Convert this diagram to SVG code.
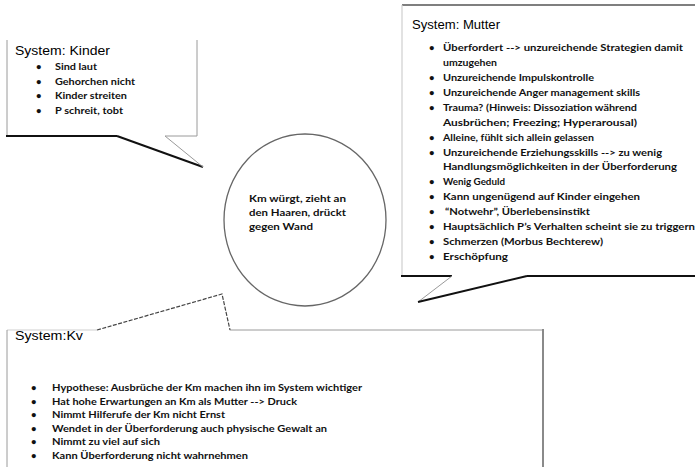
<svg xmlns="http://www.w3.org/2000/svg" width="695" height="467" viewBox="0 0 695 467">
<style>
.t{font-family:"Liberation Sans",Arial,sans-serif;font-size:12px;fill:#000}
.b{font-family:Lato,"Liberation Sans",sans-serif;font-weight:bold;font-size:9.5px;fill:#111}
.c{font-family:Lato,"Liberation Sans",sans-serif;font-weight:bold;font-size:9.5px;fill:#111}
.lg{stroke:#9a9a9a;stroke-width:1;fill:none}
.ll{stroke:#cfcfcf;stroke-width:1.2;fill:none}
.bk{stroke:#111;stroke-width:2;fill:none}
.dg{stroke:#555;stroke-width:1.5;fill:none}
</style>
<rect width="695" height="467" fill="#fff"/>
<g id="kinder">
<line class="lg" x1="7" y1="40" x2="7" y2="136"/>
<line class="bk" x1="6" y1="136" x2="117" y2="136"/>
<line class="lg" x1="165" y1="136" x2="197" y2="136"/>
<line class="lg" x1="197" y1="40" x2="197" y2="136"/>
<text class="t" x="15" y="55" textLength="95" lengthAdjust="spacingAndGlyphs">System: Kinder</text>
<g class="b">
<text x="36" y="70">•</text><text x="55" y="70" textLength="42" lengthAdjust="spacingAndGlyphs">Sind laut</text>
<text x="36" y="84.5">•</text><text x="55" y="84.5" textLength="80" lengthAdjust="spacingAndGlyphs">Gehorchen nicht</text>
<text x="36" y="99">•</text><text x="55" y="99" textLength="72" lengthAdjust="spacingAndGlyphs">Kinder streiten</text>
<text x="36" y="113.5">•</text><text x="55" y="113.5" textLength="68" lengthAdjust="spacingAndGlyphs">P schreit, tobt</text>
</g>
</g>
<g id="mutter">
<line class="dg" x1="402" y1="5" x2="695" y2="5"/>
<line class="ll" x1="402" y1="5" x2="402" y2="276"/>
<line class="bk" x1="401" y1="276" x2="452" y2="276"/>
<line class="bk" x1="527" y1="276" x2="695" y2="276"/>
<text class="t" x="412" y="29" textLength="88" lengthAdjust="spacingAndGlyphs">System: Mutter</text>
<g class="b">
<text x="429" y="51">•</text><text x="443" y="51" textLength="240" lengthAdjust="spacingAndGlyphs">Überfordert --&gt; unzureichende Strategien damit</text>
<text x="443" y="65.9" textLength="54" lengthAdjust="spacingAndGlyphs">umzugehen</text>
<text x="429" y="80.9">•</text><text x="443" y="80.9" textLength="151" lengthAdjust="spacingAndGlyphs">Unzureichende Impulskontrolle</text>
<text x="429" y="95.8">•</text><text x="443" y="95.8" textLength="197" lengthAdjust="spacingAndGlyphs">Unzureichende Anger management skills</text>
<text x="429" y="110.7">•</text><text x="443" y="110.7" textLength="194" lengthAdjust="spacingAndGlyphs">Trauma? (Hinweis: Dissoziation während</text>
<text x="443" y="125.7" textLength="194" lengthAdjust="spacingAndGlyphs">Ausbrüchen; Freezing; Hyperarousal)</text>
<text x="429" y="140.6">•</text><text x="443" y="140.6" textLength="151" lengthAdjust="spacingAndGlyphs">Alleine, fühlt sich allein gelassen</text>
<text x="429" y="155.5">•</text><text x="443" y="155.5" textLength="219" lengthAdjust="spacingAndGlyphs">Unzureichende Erziehungsskills --&gt; zu wenig</text>
<text x="443" y="170.4" textLength="234" lengthAdjust="spacingAndGlyphs">Handlungsmöglichkeiten in der Überforderung</text>
<text x="429" y="185.4">•</text><text x="443" y="185.4" textLength="62" lengthAdjust="spacingAndGlyphs">Wenig Geduld</text>
<text x="429" y="200.3">•</text><text x="443" y="200.3" textLength="197" lengthAdjust="spacingAndGlyphs">Kann ungenügend auf Kinder eingehen</text>
<text x="429" y="215.2">•</text><text x="445" y="215.2" textLength="145" lengthAdjust="spacingAndGlyphs">“Notwehr”, Überlebensinstikt</text>
<text x="429" y="230.2">•</text><text x="443" y="230.2" textLength="252" lengthAdjust="spacingAndGlyphs">Hauptsächlich P’s Verhalten scheint sie zu triggern</text>
<text x="429" y="245.1">•</text><text x="443" y="245.1" textLength="160" lengthAdjust="spacingAndGlyphs">Schmerzen (Morbus Bechterew)</text>
<text x="429" y="260">•</text><text x="443" y="260" textLength="65" lengthAdjust="spacingAndGlyphs">Erschöpfung</text>
</g>
</g>
<g id="center">
<ellipse cx="305" cy="220" rx="81" ry="86" fill="#fff" stroke="#666" stroke-width="1.3"/>
<g class="c">
<text x="249" y="202" textLength="97" lengthAdjust="spacingAndGlyphs">Km würgt, zieht an</text>
<text x="249" y="216" textLength="97" lengthAdjust="spacingAndGlyphs">den Haaren, drückt</text>
<text x="249" y="230" textLength="64" lengthAdjust="spacingAndGlyphs">gegen Wand</text>
</g>
</g>
<g id="kv">
<line class="ll" x1="7" y1="330" x2="97" y2="330"/>
<line class="lg" x1="7" y1="330" x2="7" y2="467"/>
<line class="lg" x1="230" y1="330" x2="543" y2="330"/>
<line stroke="#8a8a8a" stroke-width="2" x1="543" y1="329" x2="543" y2="467"/>
<text class="t" x="15" y="340" textLength="68" lengthAdjust="spacingAndGlyphs">System:Kv</text>
<g class="b">
<text x="31" y="391">•</text><text x="52" y="391" textLength="310" lengthAdjust="spacingAndGlyphs">Hypothese: Ausbrüche der Km machen ihn im System wichtiger</text>
<text x="31" y="404.6">•</text><text x="52" y="404.6" textLength="245" lengthAdjust="spacingAndGlyphs">Hat hohe Erwartungen an Km als Mutter --&gt; Druck</text>
<text x="31" y="418.2">•</text><text x="52" y="418.2" textLength="173" lengthAdjust="spacingAndGlyphs">Nimmt Hilferufe der Km nicht Ernst</text>
<text x="31" y="431.8">•</text><text x="52" y="431.8" textLength="275" lengthAdjust="spacingAndGlyphs">Wendet in der Überforderung auch physische Gewalt an</text>
<text x="31" y="445.4">•</text><text x="52" y="445.4" textLength="108" lengthAdjust="spacingAndGlyphs">Nimmt zu viel auf sich</text>
<text x="31" y="459">•</text><text x="52" y="459" textLength="196" lengthAdjust="spacingAndGlyphs">Kann Überforderung nicht wahrnehmen</text>
</g>
</g>
<g id="connectors">
<polyline class="bk" points="117,136 203,167"/>
<polyline class="lg" points="203,167 165,136"/>
<polyline class="lg" points="452,276 418,302"/>
<polyline class="bk" points="418,302 527,276"/>
<polyline fill="none" stroke="#444" stroke-width="1.2" stroke-dasharray="4,1.5" points="97,330 222,294 230,330"/>
</g>
</svg>
